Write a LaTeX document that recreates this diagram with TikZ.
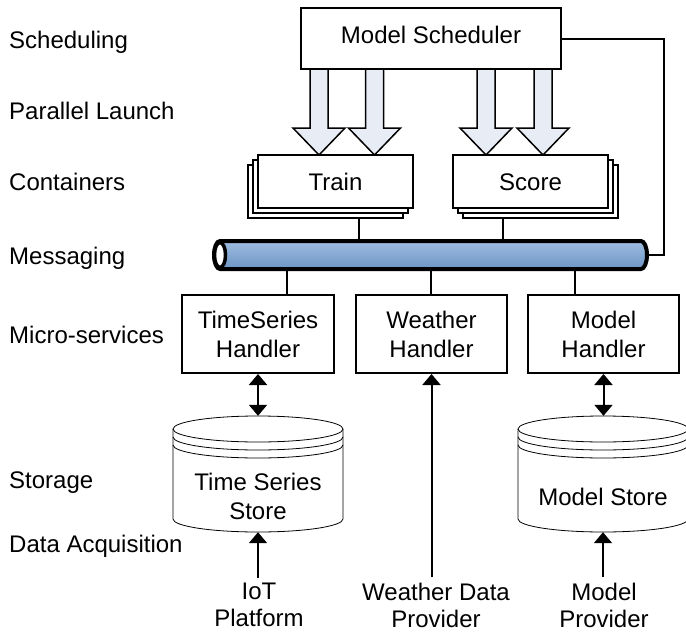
\documentclass[tikz,border=0pt]{standalone}
\usepackage{fontspec}
\setmainfont{Liberation Sans}
\usetikzlibrary{arrows.meta,shadows}
\definecolor{blkfill}{HTML}{E8ECF5}
\definecolor{busA}{HTML}{9EBDE0}
\definecolor{busB}{HTML}{D3E2F3}
\definecolor{busC}{HTML}{6E95C6}
\newcommand\blockarr[1]{%
  \draw[blk] (#1-9,69) -- (#1+9,69) -- (#1+9,128) -- (#1+26,128) -- (#1,155) -- (#1-26,128) -- (#1-9,128) -- cycle;}
\newcommand\dbcyl[2]{%
  \filldraw[cylbody] (#1-85,#2) -- (#1-85,#2+90) arc[start angle=180,end angle=360,x radius=85pt,y radius=13pt]
     -- (#1+85,#2) arc[start angle=0,end angle=180,x radius=85pt,y radius=13pt] -- cycle;
  \foreach \o in {0,8,16} \draw[cylline] (#1-85,#2+\o) arc[start angle=180,end angle=360,x radius=85pt,y radius=13pt];}
\begin{document}
\begin{tikzpicture}[x=1pt,y=-1pt,
  every node/.style={inner sep=0pt, font=\fontsize{24}{28}\selectfont},
  lbl/.style={anchor=base west},
  box/.style={draw, line width=2pt, fill=white, align=center},
  stackL/.style={copy shadow={shadow xshift=-10pt,shadow yshift=-10pt,line width=1.8pt},
                 copy shadow={shadow xshift=-5pt,shadow yshift=-5pt,line width=1.8pt}},
  stackR/.style={copy shadow={shadow xshift=10pt,shadow yshift=-10pt,line width=1.8pt},
                 copy shadow={shadow xshift=5pt,shadow yshift=-5pt,line width=1.8pt}},
  conn/.style={line width=2pt},
  tip/.style={line width=2pt, -{Triangle[width=18pt,length=11pt]}},
  dtip/.style={line width=2pt, {Triangle[width=18pt,length=11pt]}-{Triangle[width=18pt,length=11pt]}},
  blk/.style={draw, line width=1.5pt, fill=blkfill, line join=miter},
  cylbody/.style={draw, line width=0.8pt, fill=white},
  cylline/.style={draw, line width=0.8pt},
  txt/.style={align=center},
]
\useasboundingbox (0,0) rectangle (686,635);

% left layer labels
\node[lbl] (l1) at (9,48.4) {Scheduling};
\node[lbl] (l2) at (9,119.3) {Parallel Launch};
\node[lbl] (l3) at (9,190.5) {Containers};
\node[lbl] (l4) at (9,264) {Messaging};
\node[lbl] (l5) at (9,343) {Micro-services};
\node[lbl] (l6) at (9,488) {Storage};
\node[lbl] (l7) at (9,552) {Data Acquisition};

% scheduler
\node[box, minimum width=260pt, minimum height=61pt, text height=17.2pt, text depth=7pt] (sched) at (431,38.5) {Model Scheduler};

% parallel launch arrows
\blockarr{319}
\blockarr{374.5}
\blockarr{486}
\blockarr{543}

% bus
\node[minimum width=433pt, minimum height=28pt] (bus) at (430.5,255) {};

% containers
\node[box, stackL, minimum width=155pt, minimum height=53pt, text height=17.2pt, text depth=0pt] (train) at (335.5,181.5) {Train};
\node[box, stackR, minimum width=155pt, minimum height=53pt, text height=17.2pt, text depth=0pt] (score) at (530.5,181.5) {Score};

\coordinate (trl) at ([xshift=23.5pt,yshift=-10pt]train.south);
\coordinate (scl) at ([xshift=-27.5pt,yshift=-10pt]score.south);
\draw[conn] (trl) -- (trl |- bus.north);
\draw[conn] (scl) -- (scl |- bus.north);

% scheduler to bus
\coordinate (corner) at (664,38.5);
\draw[conn] (sched.east) -- (corner) |- (bus.east);

\shadedraw[top color=busA, middle color=busB, bottom color=busC, line width=4pt]
  (220,241) -- (641,241) arc[start angle=90,end angle=-90,x radius=6pt,y radius=14pt]
  -- (220,269) arc[start angle=270,end angle=90,x radius=6pt,y radius=14pt] -- cycle;
\draw[line width=3.5pt, fill=white] (220,255) ellipse[x radius=5.5pt, y radius=12.5pt];

% handlers
\node[box, minimum width=152pt, minimum height=78pt, font=\fontsize{24}{29}\selectfont] (ts) at (258,334) {TimeSeries\\Handler};
\node[box, minimum width=151pt, minimum height=78pt, font=\fontsize{24}{29}\selectfont] (wh) at (431.5,334) {Weather\\Handler};
\node[box, minimum width=151pt, minimum height=78pt, font=\fontsize{24}{29}\selectfont] (mh) at (603.5,334) {Model\\Handler};

\coordinate (b1) at ([xshift=29pt]ts.north);
\coordinate (b2) at ([xshift=-0.5pt]wh.north);
\coordinate (b3) at ([xshift=-28.5pt]mh.north);
\draw[conn] (b1 |- bus.south) -- (b1);
\draw[conn] (b2 |- bus.south) -- (b2);
\draw[conn] (b3 |- bus.south) -- (b3);

% storage
\dbcyl{258}{429}
\dbcyl{603}{429}
\node[minimum width=170pt, minimum height=116pt] (tss) at (258,474) {};
\node[minimum width=170pt, minimum height=116pt] (ms) at (603,474) {};
\node[txt, font=\fontsize{24}{28.3}\selectfont] (tsst) at (258,496.3) {Time Series\\Store};
\node[txt] (mst) at (603,497) {Model Store};

\draw[dtip] (ts.south) -- (tss.north);
\draw[dtip] (mh.south |- ms.north) -- (mh.south);

% data acquisition
\node[txt, font=\fontsize{24}{27}\selectfont, inner sep=5pt] (iot) at (259,605) {IoT\\Platform};
\node[txt, font=\fontsize{24}{27}\selectfont, inner sep=5pt] (wdp) at (436,605) {Weather Data\\Provider};
\node[txt, font=\fontsize{24}{27}\selectfont, inner sep=5pt] (mp) at (604,605) {Model\\Provider};

\draw[tip] (iot.north -| tss.south) -- (tss.south);
\draw[tip] (wdp.north -| wh.south) -- (wh.south);
\draw[tip] (mp.north -| ms.south) -- (ms.south);
\end{tikzpicture}
\end{document}
